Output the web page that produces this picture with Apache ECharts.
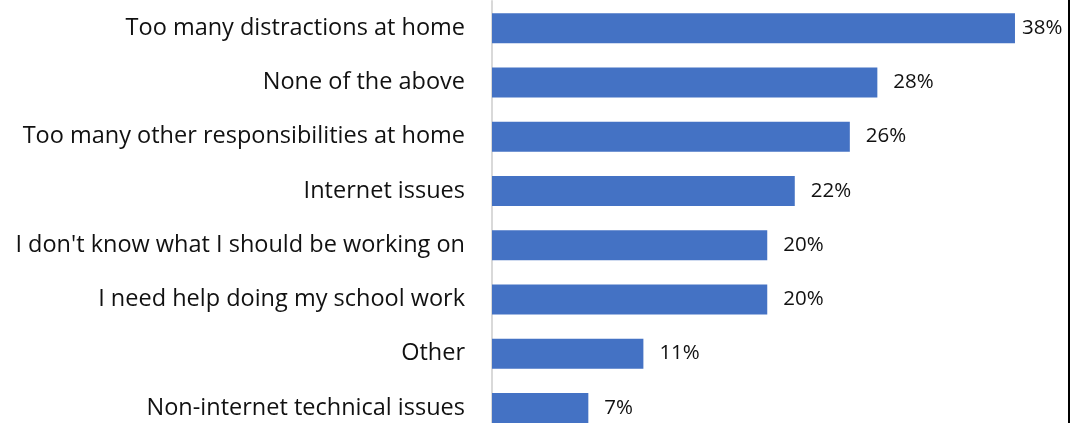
<!DOCTYPE html>
<html>
<head>
<meta charset="utf-8">
<script src="https://cdn.jsdelivr.net/npm/echarts@6/dist/echarts.min.js"></script>
<style>
html,body{margin:0;padding:0;background:#fff;}
#main{width:1074px;height:423px;}
</style>
</head>
<body>
<div id="main"></div>
<script>
const categories = [
  "Too many distractions at home",
  "None of the above",
  "Too many other responsibilities at home",
  "Internet issues",
  "I don't know what I should be working on",
  "I need help doing my school work",
  "Other",
  "Non-internet technical issues"
];
const values = [38, 28, 26, 22, 20, 20, 11, 7];

const chart = echarts.init(document.getElementById('main'));
chart.setOption({
  animation: false,
  backgroundColor: '#ffffff',
  grid: { left: 492, top: 1, height: 434, width: 550.5, outerBoundsMode: 'none', containLabel: false },
  xAxis: {
    type: 'value', min: 0, max: 40,
    show: false
  },
  yAxis: {
    type: 'category',
    inverse: true,
    data: categories,
    axisLine: { show: true, lineStyle: { color: '#d9d9d9', width: 2 } },
    axisTick: { show: false },
    axisLabel: {
      margin: 27,
      fontFamily: 'Open Sans',
      fontSize: 23.5,
      color: '#111111'
    }
  },
  series: [{
    type: 'bar',
    data: values.map((v, i) => i === 0 ? { value: v, label: { distance: 7 } } : v),
    barWidth: 30,
    itemStyle: { color: '#4472c4' },
    label: {
      show: true,
      position: 'right',
      distance: 16,
      formatter: '{c}%',
      fontFamily: 'Open Sans',
      fontSize: 20.5,
      color: '#111111'
    }
  }],
  graphic: [{
    type: 'rect',
    shape: { x: 1068, y: 0, width: 2, height: 423 },
    style: { fill: '#000000' }
  }]
});
</script>
</body>
</html>
